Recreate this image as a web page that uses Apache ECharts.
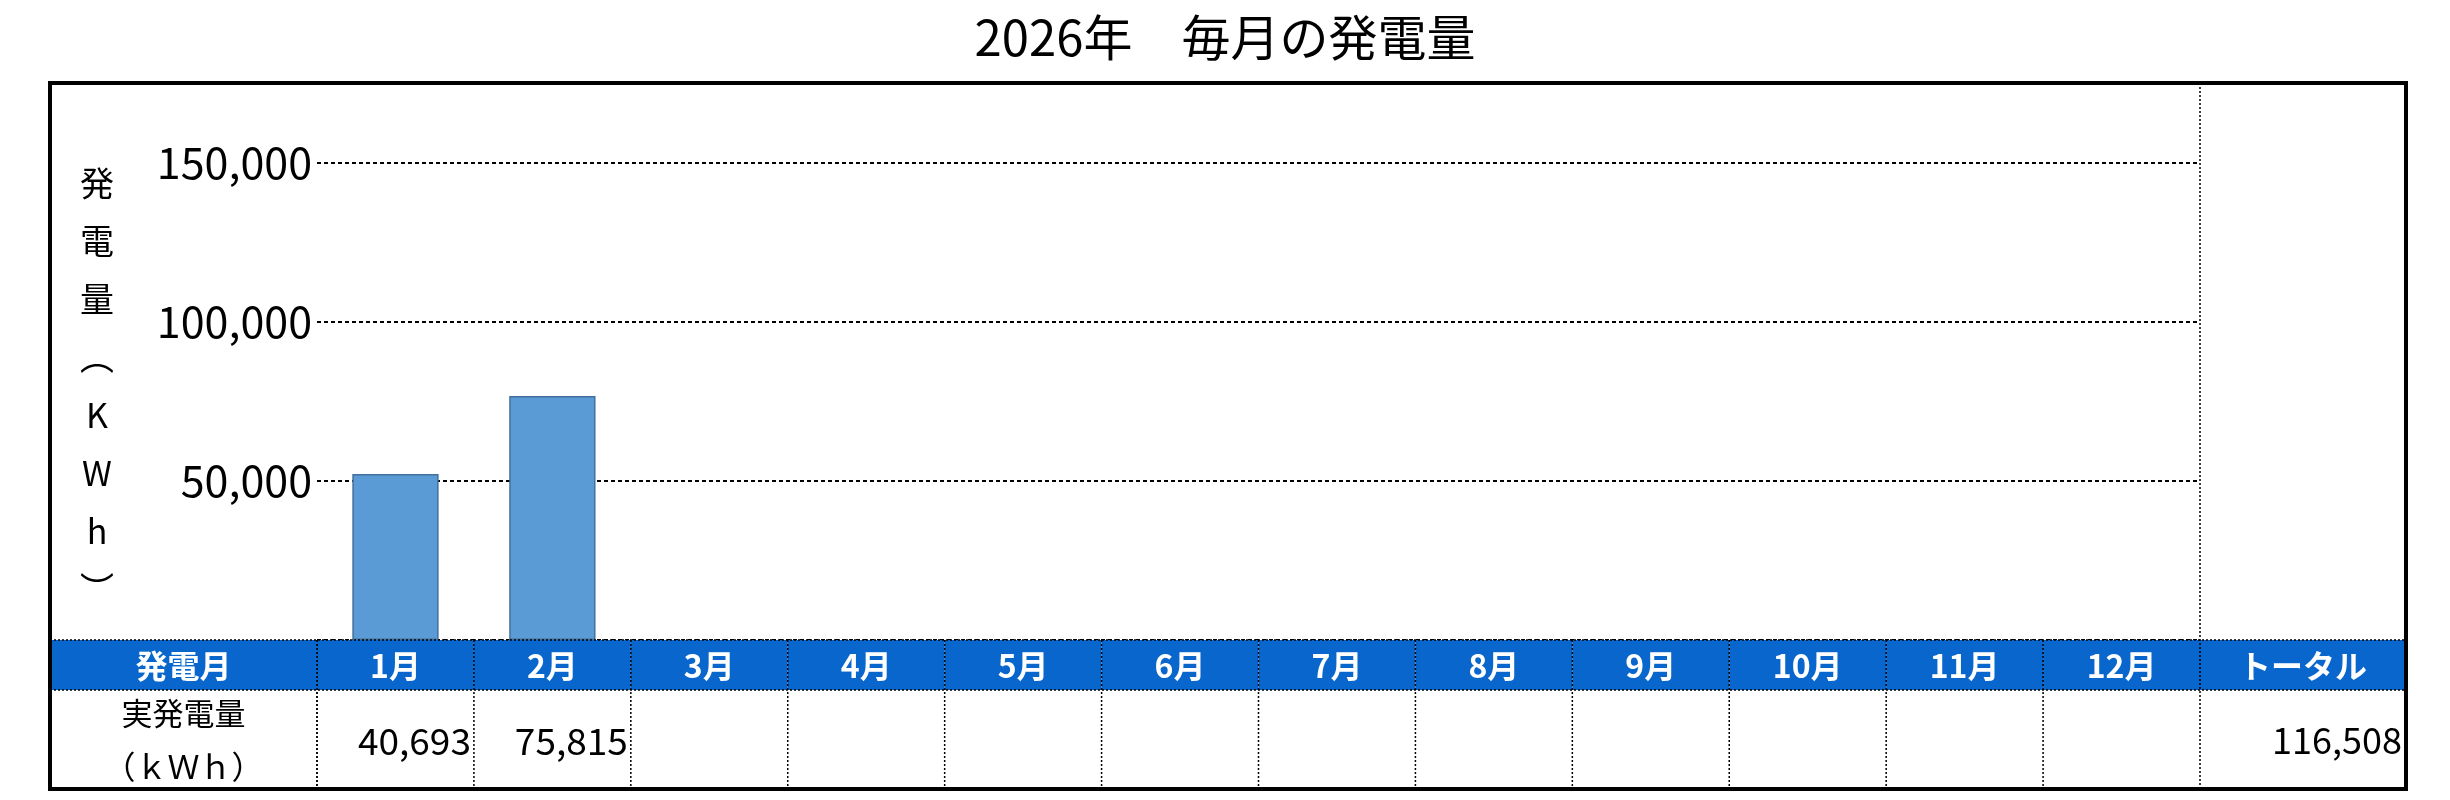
<!DOCTYPE html>
<html>
<head>
<meta charset="UTF-8">
<title>毎月の発電量</title>
<script src="https://cdn.jsdelivr.net/npm/echarts@6/dist/echarts.min.js"></script>
<style>
    html, body { margin: 0; padding: 0; background: #fff; }
    #main { width: 2450px; height: 800px; }
</style>
</head>
<body>
<div id="main"></div>
<script>
// データ
var months = ['1月', '2月', '3月', '4月', '5月', '6月', '7月', '8月', '9月', '10月', '11月', '12月'];
var barValues = [52200, 76700, null, null, null, null, null, null, null, null, null, null];
var tableValues = [40693, 75815, null, null, null, null, null, null, null, null, null, null];
var totalValue = 116508;
var yMin = 0, yMax = 150000, yStep = 50000;
var titleText = '2026年　毎月の発電量';
var axisNameChars = ['発', '電', '量', '︵', 'K', 'W', 'h', '︶'];
var rowHeadLabel = '発電月';
var rowValueLabel = ['実発電量', '（ｋＷｈ）'];
var totalLabel = 'トータル';

// レイアウト
var FONT = '"Noto Sans CJK JP", "Noto Sans", sans-serif';
var BLUE = '#0866cc';
var frameL = 50, frameT = 83, frameR = 2406, frameB = 789;
var gridL = 317, gridR = 2200, gridT = 163, gridB = 640;
var headH = 50;

function fmt(v) {
    return v == null ? '' : v.toLocaleString('en-US');
}

var myChart = echarts.init(document.getElementById('main'));

var dotted = { stroke: '#000', lineWidth: 1.5, lineDash: [2, 2] };

var option = {
    backgroundColor: '#fff',
    animation: false,
    title: {
        text: titleText,
        left: 'center',
        top: 8,
        textStyle: { fontFamily: FONT, fontSize: 49, fontWeight: 'normal', color: '#000' }
    },
    grid: { left: gridL, right: 2450 - gridR, top: gridT, bottom: 800 - gridB },
    xAxis: {
        type: 'category',
        data: months,
        axisLine: { show: false },
        axisTick: { show: false },
        axisLabel: { show: false }
    },
    yAxis: {
        type: 'value',
        min: yMin,
        max: yMax,
        interval: yStep,
        axisLine: { show: false },
        axisTick: { show: false },
        axisLabel: {
            margin: 5,
            color: '#000',
            fontFamily: FONT,
            fontSize: 43,
            formatter: function (v) { return v === 0 ? '' : fmt(v); }
        },
        splitLine: { lineStyle: { color: '#000', width: 1.8, type: [4, 3] } }
    },
    series: [{
        name: '発電量',
        type: 'bar',
        data: barValues,
        barCategoryGap: '45%',
        itemStyle: { color: '#5b9bd5', borderColor: '#41719c', borderWidth: 1.5 }
    }, {
        name: 'table',
        type: 'custom',
        clip: false,
        z: 5,
        data: months.map(function (m, i) { return [i, tableValues[i]]; }),
        renderItem: function (params, api) {
            var i = api.value(0);
            var x = api.coord([i, 0])[0];
            var w = api.size([1, 0])[0];
            var top = params.coordSys.y + params.coordSys.height;
            return {
                type: 'group',
                children: [{
                    type: 'rect',
                    shape: { x: x - w / 2, y: top, width: w, height: headH },
                    style: { fill: BLUE }
                }, {
                    type: 'text',
                    style: {
                        text: months[i], x: x, y: top + headH / 2 + 1,
                        align: 'center', verticalAlign: 'middle',
                        fill: '#fff', font: 'bold 32px ' + FONT
                    }
                }, {
                    type: 'text',
                    style: {
                        text: fmt(tableValues[i]), x: x + w / 2 - 3, y: (top + headH + frameB) / 2 + 1,
                        align: 'right', verticalAlign: 'middle',
                        fill: '#000', font: '37px ' + FONT
                    }
                }, {
                    type: 'line',
                    shape: { x1: x - w / 2, y1: top, x2: x - w / 2, y2: frameB },
                    style: dotted
                }]
            };
        }
    }],
    graphic: [
        // 縦書きの軸名
        {
            type: 'text',
            x: 97, y: 386,
            style: {
                text: axisNameChars.join('\n'),
                align: 'center', verticalAlign: 'middle',
                lineHeight: 58,
                fill: '#000', font: '34px ' + FONT
            }
        },
        // 左の見出し列
        {
            type: 'rect', z: 6,
            shape: { x: frameL, y: gridB, width: gridL - frameL, height: headH },
            style: { fill: BLUE }
        },
        {
            type: 'text', z: 7,
            x: (frameL + gridL) / 2, y: gridB + headH / 2 + 1,
            style: { text: rowHeadLabel, align: 'center', verticalAlign: 'middle', fill: '#fff', font: 'bold 32px ' + FONT }
        },
        {
            type: 'text', z: 7,
            x: (frameL + gridL) / 2, y: 713,
            style: { text: rowValueLabel[0], align: 'center', verticalAlign: 'middle', fill: '#000', font: '31px ' + FONT }
        },
        {
            type: 'text', z: 7,
            x: (frameL + gridL) / 2, y: 767,
            style: { text: rowValueLabel[1], align: 'center', verticalAlign: 'middle', fill: '#000', font: '32px ' + FONT }
        },
        // トータル列
        {
            type: 'rect', z: 6,
            shape: { x: gridR, y: gridB, width: frameR - gridR, height: headH },
            style: { fill: BLUE }
        },
        {
            type: 'text', z: 7,
            x: (gridR + frameR) / 2, y: gridB + headH / 2 + 1,
            style: { text: totalLabel, align: 'center', verticalAlign: 'middle', fill: '#fff', font: 'bold 32px ' + FONT }
        },
        {
            type: 'text', z: 7,
            x: frameR - 4, y: (gridB + headH + frameB) / 2 + 1,
            style: { text: fmt(totalValue), align: 'right', verticalAlign: 'middle', fill: '#000', font: '36px ' + FONT }
        },
        // 点線
        {
            type: 'line', z: 8,
            shape: { x1: gridR, y1: frameT, x2: gridR, y2: frameB },
            style: dotted
        },
        {
            type: 'line', z: 8,
            shape: { x1: frameL, y1: gridB, x2: frameR, y2: gridB },
            style: dotted
        },
        {
            type: 'line', z: 8,
            shape: { x1: frameL, y1: gridB + headH, x2: frameR, y2: gridB + headH },
            style: dotted
        },
        {
            type: 'line', z: 8,
            shape: { x1: gridL, y1: gridB, x2: gridL, y2: frameB },
            style: dotted
        },
        // 外枠
        {
            type: 'rect', z: 9,
            shape: { x: frameL, y: frameT, width: frameR - frameL, height: frameB - frameT },
            style: { fill: 'none', stroke: '#000', lineWidth: 4 }
        }
    ]
};

myChart.setOption(option);
</script>
</body>
</html>
